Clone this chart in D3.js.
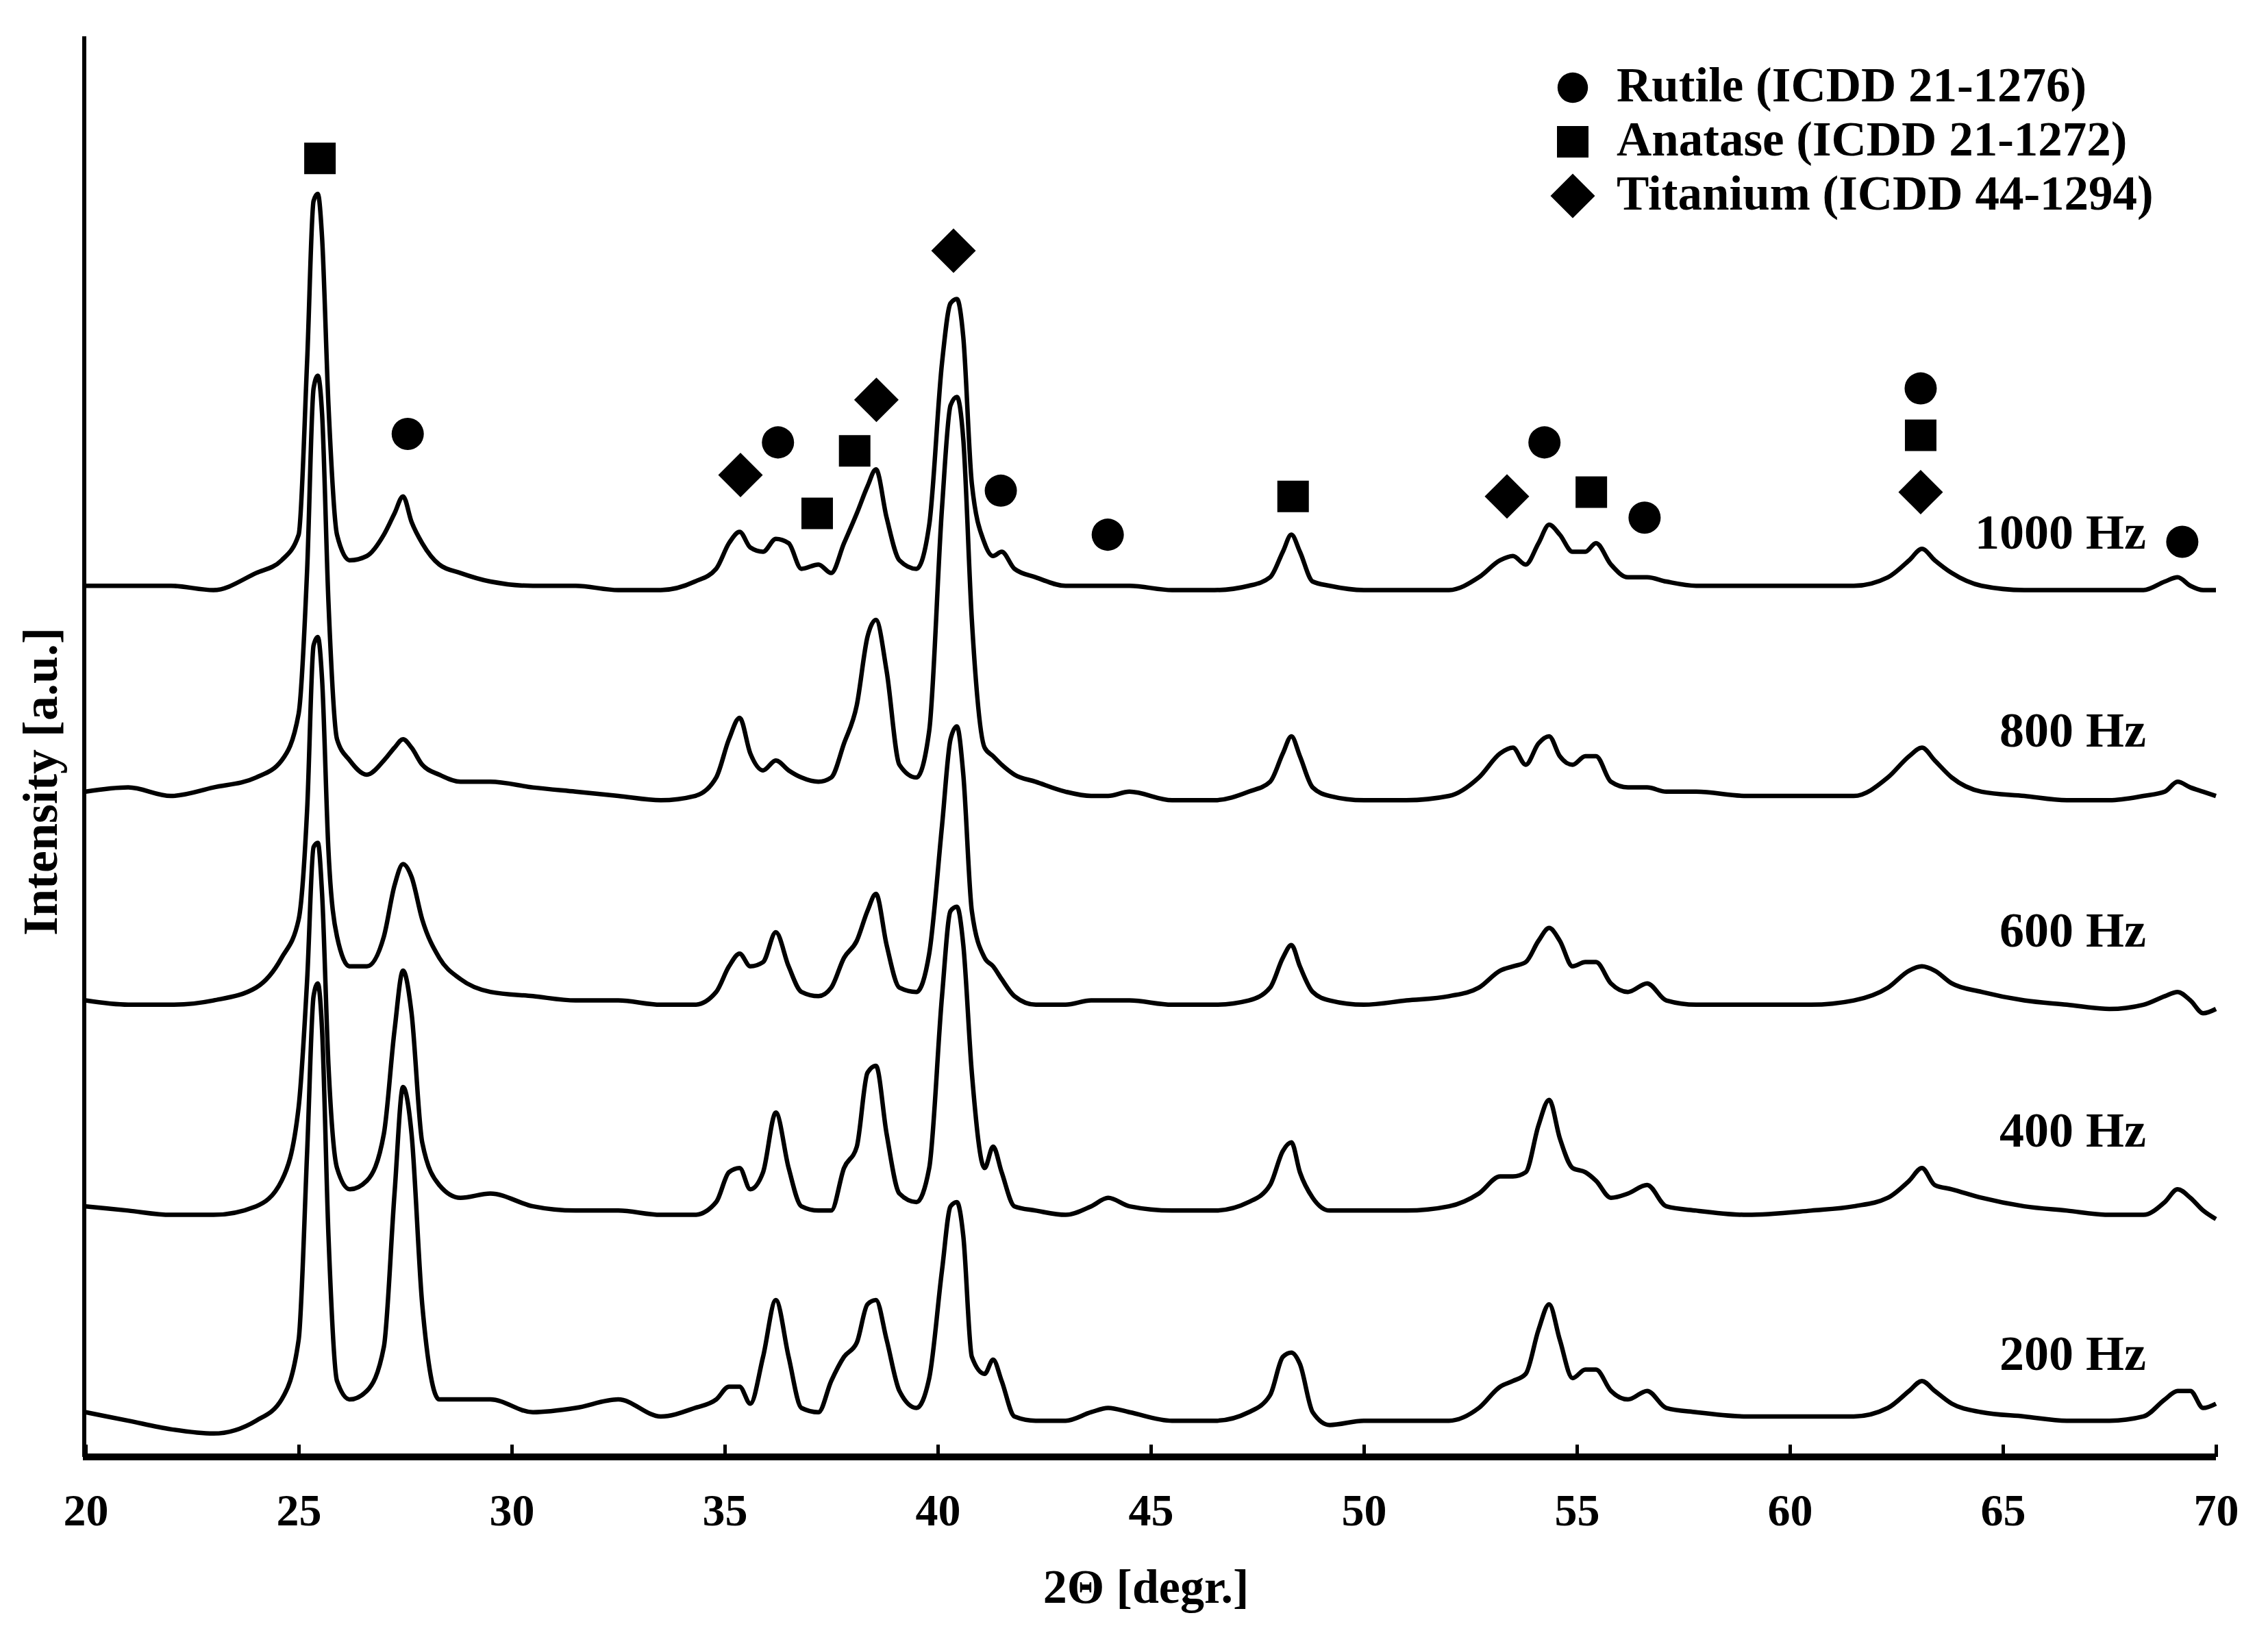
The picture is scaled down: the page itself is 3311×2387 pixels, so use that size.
<!DOCTYPE html>
<html>
<head>
<meta charset="utf-8">
<script src="https://cdn.jsdelivr.net/npm/d3@7"></script>
<style>
  html, body { margin: 0; padding: 0; background: #fff; }
</style>
</head>
<body>
<div id="xrd-chart"></div>
<script>
const WIDTH = 3311;
const HEIGHT = 2387;

// 2-theta sampling (degrees)
const twoTheta = [
  20, 21, 22, 23, 24, 24.6, 25, 25.2, 25.35, 25.45, 25.55, 25.7, 25.9, 26.2, 26.6, 27, 27.25, 27.45, 27.65, 27.9, 28.3,
  28.8, 29.5, 30.5, 31.5, 32.5, 33.5, 34.3, 34.8, 35.1, 35.35, 35.6, 35.9, 36.2, 36.5,
  36.8, 37.2, 37.5, 37.8, 38.1, 38.35, 38.55, 38.8, 39.1, 39.5, 39.8, 40.1, 40.3, 40.45, 40.6, 40.8, 41.1, 41.3, 41.5, 41.8, 42.3, 43, 43.6, 44, 44.5,
  45.5, 46.5, 47.3, 47.8, 48.1, 48.3, 48.5, 48.8, 49.2, 50, 51, 52, 52.7, 53.2,
  53.5, 53.8, 54.1, 54.35, 54.6, 54.9, 55.2, 55.45, 55.8, 56.2, 56.65, 57.1, 57.8, 59, 60.5, 61.5,
  62.3, 62.8, 63.1, 63.4, 63.8, 64.5, 65.5, 66.5, 67.5, 68.3, 68.8, 69.1, 69.4, 69.7, 70
];

// stacked intensities [a.u.]
const hz1000 = [
  613, 613, 613, 610, 622, 631, 649, 772, 884, 889, 858, 740, 649, 631, 634, 649, 664, 676, 658, 643, 628,
  622, 616, 613, 613, 610, 610, 616, 625, 643, 651, 640, 637, 646, 643,
  625, 628, 622, 643, 664, 683, 695, 661, 631, 625, 656, 770, 812, 815, 788, 685, 643, 634, 637, 625, 619, 613, 613, 613, 613,
  610, 610, 613, 619, 637, 649, 637, 616, 613, 610, 610, 610, 619, 631,
  634, 628, 643, 656, 649, 637, 637, 643, 628, 619, 619, 616, 613, 613, 613, 613,
  619, 631, 639, 631, 622, 613, 610, 610, 610, 610, 616, 619, 613, 610, 610
];
const hz800 = [
  468, 471, 465, 471, 478, 490, 523, 625, 752, 761, 734, 601, 505, 490, 480, 490, 499, 505, 499, 487, 480,
  475, 475, 471, 468, 465, 462, 465, 478, 505, 520, 495, 483, 490, 483,
  478, 475, 478, 502, 529, 577, 589, 553, 487, 478, 511, 668, 740, 746, 716, 589, 499, 493, 487, 480, 475, 468, 465, 465, 468,
  462, 462, 468, 475, 495, 507, 493, 471, 465, 462, 462, 465, 478, 495,
  499, 487, 502, 507, 493, 487, 493, 493, 475, 471, 471, 468, 468, 465, 465, 465,
  478, 493, 499, 490, 478, 468, 465, 462, 462, 465, 468, 475, 471, 468, 465
];
const hz600 = [
  321, 318, 318, 321, 330, 351, 378, 456, 571, 577, 547, 426, 366, 345, 345, 366, 402, 417, 408, 378, 351,
  336, 327, 324, 321, 321, 318, 318, 327, 345, 354, 345, 348, 369, 345,
  327, 324, 330, 351, 363, 384, 396, 360, 330, 327, 354, 444, 505, 514, 480, 384, 351, 345, 336, 324, 318, 318, 321, 321, 321,
  318, 318, 321, 330, 351, 360, 345, 327, 321, 318, 321, 324, 330, 342,
  345, 348, 363, 372, 363, 345, 348, 348, 333, 327, 333, 321, 318, 318, 318, 321,
  330, 342, 345, 342, 333, 327, 321, 318, 315, 318, 324, 327, 321, 312, 315
];
const hz400 = [
  176, 173, 170, 170, 176, 194, 246, 336, 429, 432, 396, 275, 203, 188, 194, 227, 300, 342, 312, 221, 191,
  182, 185, 176, 173, 173, 170, 170, 179, 200, 203, 188, 200, 242, 203,
  176, 173, 173, 203, 218, 270, 275, 227, 185, 179, 203, 324, 384, 387, 360, 270, 203, 218, 200, 176, 173, 170, 176, 182, 176,
  173, 173, 179, 191, 215, 221, 200, 182, 173, 173, 173, 176, 185, 197,
  197, 200, 233, 251, 224, 203, 200, 194, 182, 185, 191, 176, 173, 170, 173, 176,
  182, 194, 203, 191, 188, 182, 176, 173, 170, 170, 179, 188, 182, 173, 167
];
const hz200 = [
  31, 25, 19, 16, 25, 40, 82, 215, 324, 333, 300, 155, 53, 40, 46, 77, 185, 260, 227, 107, 40,
  40, 40, 31, 34, 40, 28, 34, 40, 49, 49, 37, 70, 110, 70,
  34, 31, 53, 70, 80, 107, 110, 82, 46, 34, 55, 131, 176, 179, 155, 70, 58, 68, 53, 28, 25, 25, 31, 34, 31,
  25, 25, 31, 43, 70, 73, 65, 31, 22, 25, 25, 25, 34, 49,
  53, 58, 89, 107, 82, 55, 61, 61, 46, 40, 46, 34, 31, 28, 28, 28,
  34, 46, 53, 46, 37, 31, 28, 25, 25, 28, 40, 46, 46, 34, 37
];

const seriesNames = ['1000 Hz', '800 Hz', '600 Hz', '400 Hz', '200 Hz'];
const seriesValues = [hz1000, hz800, hz600, hz400, hz200];

// phase identification marks
const markTheta = [25.5, 27.56, 35.37, 36.25, 37.17, 38.05, 38.56, 40.37, 41.48, 43.99, 48.34, 53.36, 54.24, 55.34, 56.59, 63.07, 63.07, 63.07, 69.21];
const markLevel = [914, 720, 691, 714, 664, 708, 744, 849, 680, 649, 676, 676, 714, 679, 661, 752, 719, 679, 644];
const markPhase = ['A', 'R', 'T', 'R', 'A', 'A', 'T', 'T', 'R', 'R', 'A', 'T', 'R', 'A', 'R', 'R', 'A', 'T', 'R'];

const legendItems = [
  { phase: 'R', text: 'Rutile (ICDD 21-1276)' },
  { phase: 'A', text: 'Anatase (ICDD 21-1272)' },
  { phase: 'T', text: 'Titanium (ICDD 44-1294)' }
];

const xTicks = [20, 25, 30, 35, 40, 45, 50, 55, 60, 65, 70];

const FONT = '"Liberation Serif", "Times New Roman", serif';
const MARGIN = { TOP: 53, BOTTOM: 260, LEFT: 125, RIGHT: 76 };
const X_AXIS_Y = 2127;

const SVG = d3.select('#xrd-chart')
    .append('svg')
    .attr('width', WIDTH)
    .attr('height', HEIGHT)
    .style('background', '#fff')
    .style('font-family', FONT)
    .style('font-weight', 'bold');

const x = d3.scaleLinear()
    .domain([20, 70])
    .range([MARGIN.LEFT, WIDTH - MARGIN.RIGHT]);

const y = d3.scaleLinear()
    .domain([0, 1000])
    .range([X_AXIS_Y - 1, MARGIN.TOP]);

// traces
const line = d3.line()
    .x(d => x(d[0]))
    .y(d => y(d[1]))
    .curve(d3.curveMonotoneX);

SVG.append('g')
    .selectAll('path')
    .data(seriesValues)
    .enter()
    .append('path')
    .attr('d', vals => line(d3.zip(twoTheta, vals)))
    .attr('fill', 'none')
    .attr('stroke', '#000')
    .attr('stroke-width', 6.5)
    .attr('stroke-linejoin', 'round');

// series labels, right aligned above each trace
const labelLevel = [639, 500, 359, 218, 61];
SVG.append('g')
    .selectAll('text')
    .data(seriesNames)
    .enter()
    .append('text')
    .attr('x', x(68.36))
    .attr('y', (d, i) => y(labelLevel[i]))
    .attr('text-anchor', 'end')
    .style('font-size', '72px')
    .text(d => d);

// symbols
function symbolPath(phase) {
    if (phase === 'R') return d3.symbol(d3.symbolCircle, 1735)();
    return d3.symbol(d3.symbolSquare, 2116)();
}
function symbolRotate(phase) {
    return phase === 'T' ? ' rotate(45)' : '';
}

SVG.append('g')
    .selectAll('path')
    .data(d3.range(markTheta.length))
    .enter()
    .append('path')
    .attr('d', i => symbolPath(markPhase[i]))
    .attr('transform', i => `translate(${x(markTheta[i])}, ${y(markLevel[i])})` + symbolRotate(markPhase[i]))
    .attr('fill', '#000');

// x axis
const xAxis = SVG.append('g')
    .attr('transform', `translate(0, ${X_AXIS_Y})`)
    .call(d3.axisBottom(x).tickValues(xTicks).tickSizeInner(-18).tickSizeOuter(0));

xAxis.select('.domain')
    .attr('stroke-width', 10)
    .attr('d', `M${MARGIN.LEFT - 4},0H${x(70)}`);
xAxis.selectAll('.tick line').attr('stroke-width', 5);
xAxis.selectAll('.tick text')
    .attr('y', 100)
    .attr('dy', null)
    .attr('fill', '#000')
    .style('font-family', FONT)
    .style('font-weight', 'bold')
    .style('font-size', '66px');

// y axis (line only)
SVG.append('line')
    .attr('x1', 123).attr('x2', 123)
    .attr('y1', MARGIN.TOP).attr('y2', X_AXIS_Y)
    .attr('stroke', '#000')
    .attr('stroke-width', 6);

// axis titles
SVG.append('text')
    .attr('x', 1673)
    .attr('y', 2340)
    .attr('text-anchor', 'middle')
    .style('font-size', '70px')
    .text('2\u0398 [degr.]');

SVG.append('text')
    .attr('transform', 'translate(83, 1141) rotate(-90)')
    .attr('text-anchor', 'middle')
    .style('font-size', '72px')
    .text('Intensity [a.u.]');

// legend
const legend = SVG.append('g').attr('transform', 'translate(2296, 128)');
const rows = legend.selectAll('g')
    .data(legendItems)
    .enter()
    .append('g')
    .attr('transform', (d, i) => `translate(0, ${i * 79})`);

rows.append('path')
    .attr('d', d => d.phase === 'R' ? d3.symbol(d3.symbolCircle, 1550)() : d3.symbol(d3.symbolSquare, 2116)())
    .attr('transform', d => d.phase === 'T' ? 'rotate(45)' : null)
    .attr('fill', '#000');

rows.append('text')
    .attr('x', 64)
    .attr('y', 20)
    .style('font-size', '71px')
    .text(d => d.text);
</script>
</body>
</html>
